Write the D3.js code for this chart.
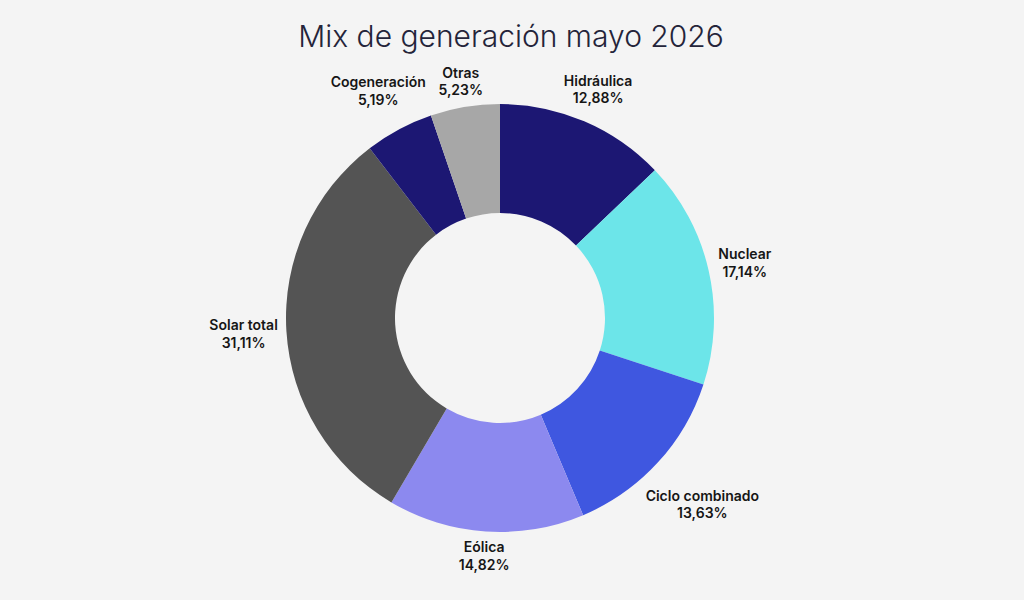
<!DOCTYPE html>
<html>
<head>
<meta charset="utf-8">
<script src="https://cdn.jsdelivr.net/npm/d3@7"></script>
<style>
  html, body { margin: 0; padding: 0; background: #f4f4f4; }
  svg { display: block; }
  .title { font-family: Inter, "Noto Sans", sans-serif; font-weight: 300; fill: #24243a; }
  .lbl { font-family: Inter, "Noto Sans", sans-serif; font-weight: 600; font-size: 14px; fill: #161616; }
</style>
</head>
<body>
<div id="chart"></div>
<script>
// datos del mix (% de generación)
var categories = ["Hidráulica", "Nuclear", "Ciclo combinado", "Eólica", "Solar total", "Cogeneración", "Otras"];
var values = [12.88, 17.14, 13.63, 14.82, 31.11, 5.19, 5.23];
var colors = ["#1c1773", "#6ce5e9", "#3f57e0", "#8c89ef", "#545454", "#1c1773", "#a7a7a7"];

var width = 1024, height = 600;
var cx = 500, cy = 318;
var outerR = 214, innerR = 105;

var svg = d3.select("#chart").append("svg")
  .attr("width", width)
  .attr("height", height);

svg.append("rect").attr("width", width).attr("height", height).attr("fill", "#f4f4f4");

svg.append("text")
  .attr("class", "title")
  .attr("x", 511)
  .attr("y", 47)
  .attr("text-anchor", "middle")
  .style("font-size", "30px")
  .text("Mix de generación mayo 2026");

var data = categories.map(function(c, i) { return {name: c, value: values[i], color: colors[i]}; });

var pie = d3.pie().sort(null).value(function(d) { return d.value; });
var arc = d3.arc().innerRadius(innerR).outerRadius(outerR);

var g = svg.append("g").attr("transform", "translate(" + cx + "," + cy + ")");

var arcs = pie(data);

g.selectAll("path")
  .data(arcs)
  .enter()
  .append("path")
  .attr("d", arc)
  .attr("fill", function(d) { return d.data.color; });

function fmt(v) { return v.toFixed(2).replace(".", ",") + "%"; }

// etiquetas fuera del anillo, desplazadas según el tamaño del texto
var labels = g.selectAll("text.lbl")
  .data(arcs)
  .enter()
  .append("text")
  .attr("class", "lbl")
  .attr("text-anchor", "middle");

labels.append("tspan").attr("x", 0).attr("dy", 0).text(function(d) { return d.data.name; });
labels.append("tspan").attr("x", 0).attr("dy", 17.5).text(function(d) { return fmt(d.data.value); });

labels.each(function(d) {
  var bb = this.getBBox();
  var a = (d.startAngle + d.endAngle) / 2;
  var s = Math.abs(Math.sin(a)), c = Math.abs(Math.cos(a));
  var r = 220 + s * bb.width / 2 * 1.05 + c * bb.height / 2 * 0.95;
  var x = Math.sin(a) * r;
  var y = -Math.cos(a) * r;
  // centrar verticalmente el bloque de dos líneas
  var yOff = y - (bb.y + bb.height / 2);
  d3.select(this).attr("transform", "translate(" + x + "," + yOff + ")");
});
</script>
</body>
</html>
